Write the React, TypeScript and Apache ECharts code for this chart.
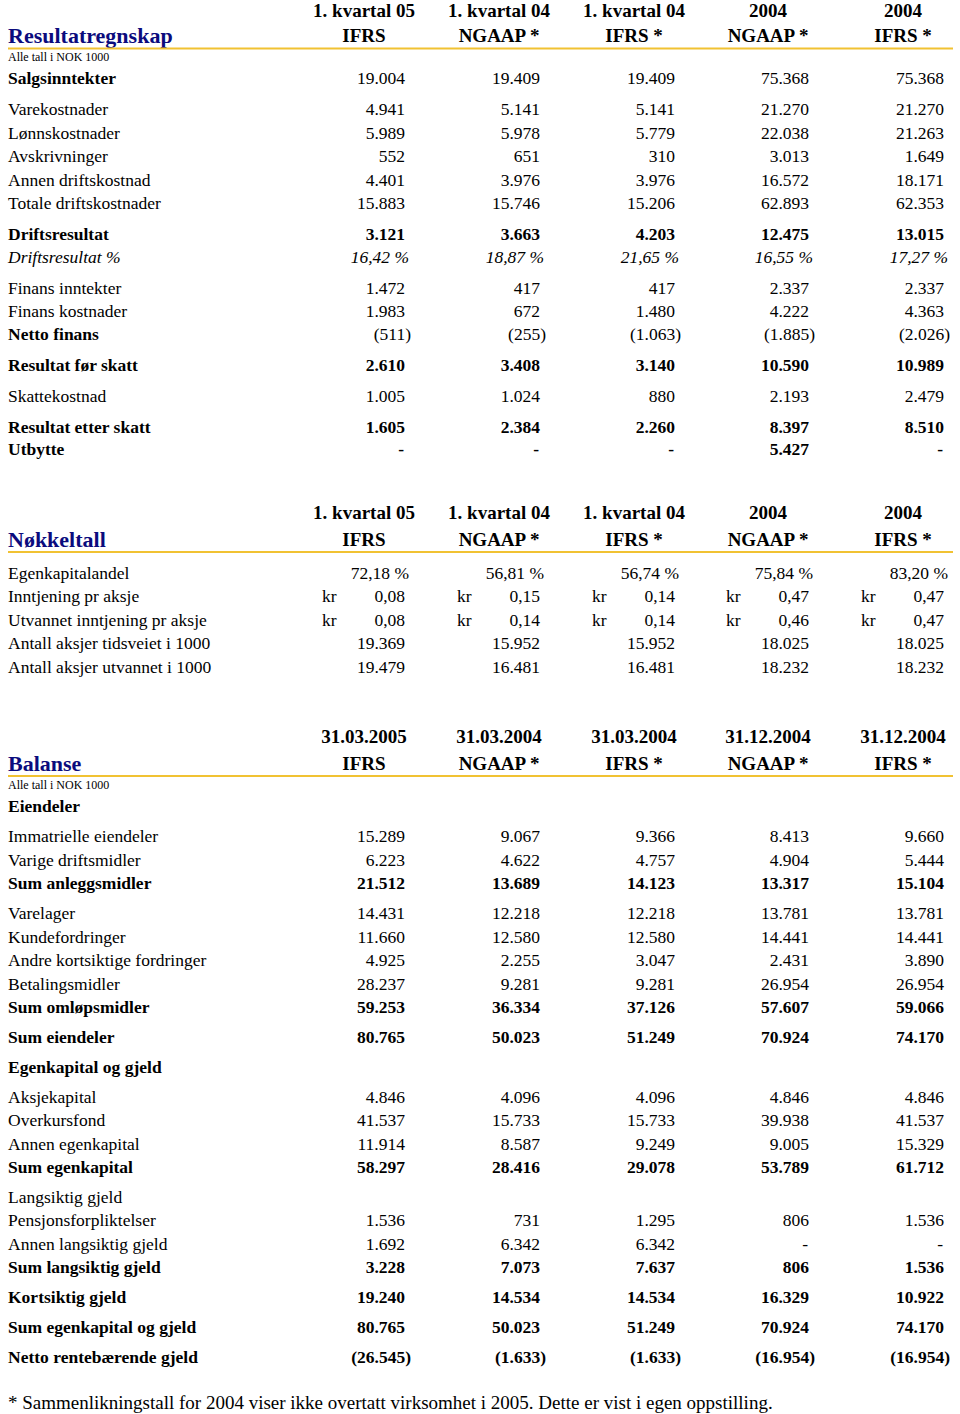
import React, { useEffect, useRef } from "react";
import * as echarts from "echarts";

const _ = undefined as any;

// ---------- Headers ----------
const periodLabels = ["1. kvartal 05", "1. kvartal 04", "1. kvartal 04", "2004", "2004"];
const gaapLabels = ["IFRS", "NGAAP *", "IFRS *", "NGAAP *", "IFRS *"];
const balDates = ["31.03.2005", "31.03.2004", "31.03.2004", "31.12.2004", "31.12.2004"];

// ---------- Resultatregnskap ----------
const resLabels = [
  "Salgsinntekter", "Varekostnader", "Lønnskostnader", "Avskrivninger", "Annen driftskostnad",
  "Totale driftskostnader", "Driftsresultat", "Driftsresultat %", "Finans inntekter", "Finans kostnader",
  "Netto finans", "Resultat før skatt", "Skattekostnad", "Resultat etter skatt", "Utbytte",
];
const resQ105 = [19004, 4941, 5989, 552, 4401, 15883, 3121, 16.42, 1472, 1983, -511, 2610, 1005, 1605, null];
const resQ104N = [19409, 5141, 5978, 651, 3976, 15746, 3663, 18.87, 417, 672, -255, 3408, 1024, 2384, null];
const resQ104I = [19409, 5141, 5779, 310, 3976, 15206, 4203, 21.65, 417, 1480, -1063, 3140, 880, 2260, null];
const res04N = [75368, 21270, 22038, 3013, 16572, 62893, 12475, 16.55, 2337, 4222, -1885, 10590, 2193, 8397, 5427];
const res04I = [75368, 21270, 21263, 1649, 18171, 62353, 13015, 17.27, 2337, 4363, -2026, 10989, 2479, 8510, null];
const resFormats = ["int", "int", "int", "int", "int", "int", "int", "pct", "int", "int", "int", "int", "int", "int", "int"];

// ---------- Nøkkeltall ----------
const keyLabels = [
  "Egenkapitalandel", "Inntjening pr aksje", "Utvannet inntjening pr aksje",
  "Antall aksjer tidsveiet i 1000", "Antall aksjer utvannet i 1000",
];
const keyQ105 = [72.18, 0.08, 0.08, 19369, 19479];
const keyQ104N = [56.81, 0.15, 0.14, 15952, 16481];
const keyQ104I = [56.74, 0.14, 0.14, 15952, 16481];
const key04N = [75.84, 0.47, 0.46, 18025, 18232];
const key04I = [83.2, 0.47, 0.47, 18025, 18232];
const keyFormats = ["pct", "kr", "kr", "int", "int"];

// ---------- Balanse ----------
const balLabels = [
  "Eiendeler", "Immatrielle eiendeler", "Varige driftsmidler", "Sum anleggsmidler", "Varelager",
  "Kundefordringer", "Andre kortsiktige fordringer", "Betalingsmidler", "Sum omløpsmidler", "Sum eiendeler",
  "Egenkapital og gjeld", "Aksjekapital", "Overkursfond", "Annen egenkapital", "Sum egenkapital",
  "Langsiktig gjeld", "Pensjonsforpliktelser", "Annen langsiktig gjeld", "Sum langsiktig gjeld",
  "Kortsiktig gjeld", "Sum egenkapital og gjeld", "Netto rentebærende gjeld",
];
const bal3105 = [_, 15289, 6223, 21512, 14431, 11660, 4925, 28237, 59253, 80765, _, 4846, 41537, 11914, 58297, _, 1536, 1692, 3228, 19240, 80765, -26545];
const bal3104N = [_, 9067, 4622, 13689, 12218, 12580, 2255, 9281, 36334, 50023, _, 4096, 15733, 8587, 28416, _, 731, 6342, 7073, 14534, 50023, -1633];
const bal3104I = [_, 9366, 4757, 14123, 12218, 12580, 3047, 9281, 37126, 51249, _, 4096, 15733, 9249, 29078, _, 1295, 6342, 7637, 14534, 51249, -1633];
const bal3112N = [_, 8413, 4904, 13317, 13781, 14441, 2431, 26954, 57607, 70924, _, 4846, 39938, 9005, 53789, _, 806, null, 806, 16329, 70924, -16954];
const bal3112I = [_, 9660, 5444, 15104, 13781, 14441, 3890, 26954, 59066, 74170, _, 4846, 41537, 15329, 61712, _, 1536, null, 1536, 10922, 74170, -16954];

const footnote = "* Sammenlikningstall for 2004 viser ikke overtatt virksomhet i 2005. Dette er vist i egen oppstilling.";

// ---------- Layout / styles (not data) ----------
const FONT = "'Liberation Serif', 'Times New Roman', serif";
const NAVY = "#0b0b7d";
const GOLD = "#f1c232";
const BODY = 17.5;
const colRight = [405, 540, 675, 809, 944];
const resY = [78, 109, 133, 156, 180, 203, 234, 257, 288, 311, 334, 365, 396, 427, 449];
const keyY = [573, 596, 620, 643, 667];
const balY = [806, 836, 860, 883, 913, 937, 960, 984, 1007, 1037, 1067, 1097, 1120, 1144, 1167, 1197, 1220, 1244, 1267, 1297, 1327, 1357];
const resBoldLabel = [0, 6, 10, 11, 13, 14];
const resBoldValue = [6, 11, 13, 14];
const resItalic = [7];
const balBoldLabel = [0, 3, 8, 9, 10, 14, 18, 19, 20, 21];
const balBoldValue = [3, 8, 9, 14, 18, 19, 20, 21];

function thousands(n: number): string {
  const s = String(Math.round(Math.abs(n)));
  let out = "";
  for (let i = 0; i < s.length; i++) {
    if (i > 0 && (s.length - i) % 3 === 0) out += ".";
    out += s[i];
  }
  return out;
}

function T(text: string, x: number, y: number, o: any = {}) {
  return {
    type: "text",
    x,
    y,
    silent: true,
    style: {
      text,
      fill: o.fill || "#000",
      fontFamily: FONT,
      fontSize: o.size || BODY,
      fontWeight: o.bold ? "bold" : "normal",
      fontStyle: o.italic ? "italic" : "normal",
      textAlign: o.align || "left",
      textVerticalAlign: "middle",
    },
  };
}

function valueCells(v: any, fmt: string, col: number, y: number, o: any) {
  const r = colRight[col];
  const els: any[] = [];
  if (v === undefined) return els;
  if (v === null) {
    els.push(T("-", r - 1, y, { ...o, align: "right" }));
    return els;
  }
  if (fmt === "pct") {
    els.push(T(v.toFixed(2).replace(".", ",") + " %", r + 4, y, { ...o, align: "right" }));
  } else if (fmt === "kr") {
    els.push(T("kr", r - 83, y, { ...o, align: "left" }));
    els.push(T(v.toFixed(2).replace(".", ","), r, y, { ...o, align: "right" }));
  } else if (v < 0) {
    els.push(T("(" + thousands(v) + ")", r + 6, y, { ...o, align: "right" }));
  } else {
    els.push(T(thousands(v), r, y, { ...o, align: "right" }));
  }
  return els;
}

function headerBlock(top: string[], title: string, yTop: number, yTitle: number, yLine: number) {
  const els: any[] = [];
  top.forEach((t, i) => els.push(T(t, colRight[i] - 41, yTop, { bold: true, size: 19, align: "center" })));
  gaapLabels.forEach((t, i) => els.push(T(t, colRight[i] - 41, yTitle, { bold: true, size: 19, align: "center" })));
  els.push(T(title, 8, yTitle, { bold: true, size: 22, fill: NAVY }));
  els.push({
    type: "line",
    silent: true,
    shape: { x1: 8, y1: yLine, x2: 953, y2: yLine },
    style: { stroke: GOLD, lineWidth: 2 },
  });
  return els;
}

export default function App() {
  const ref = useRef<HTMLDivElement>(null);
  useEffect(() => {
    if (!ref.current) return;
    const chart = echarts.init(ref.current, null, { renderer: "svg" });
    const els: any[] = [];

    // Section 1
    els.push(...headerBlock(periodLabels, "Resultatregnskap", 10.5, 35, 48.5));
    els.push(T("Alle tall i NOK 1000", 8, 57, { size: 12 }));
    const resCols = [resQ105, resQ104N, resQ104I, res04N, res04I];
    resLabels.forEach((lab, i) => {
      const y = resY[i];
      const italic = resItalic.includes(i);
      els.push(T(lab, 8, y, { bold: resBoldLabel.includes(i), italic }));
      resCols.forEach((col, c) => {
        els.push(...valueCells(col[i], resFormats[i], c, y, { bold: resBoldValue.includes(i), italic }));
      });
    });

    // Section 2
    els.push(...headerBlock(periodLabels, "Nøkkeltall", 512, 539, 552));
    const keyCols = [keyQ105, keyQ104N, keyQ104I, key04N, key04I];
    keyLabels.forEach((lab, i) => {
      const y = keyY[i];
      els.push(T(lab, 8, y));
      keyCols.forEach((col, c) => {
        els.push(...valueCells(col[i], keyFormats[i], c, y, {}));
      });
    });

    // Section 3
    els.push(...headerBlock(balDates, "Balanse", 736, 763, 776));
    els.push(T("Alle tall i NOK 1000", 8, 785, { size: 12 }));
    const balCols = [bal3105, bal3104N, bal3104I, bal3112N, bal3112I];
    balLabels.forEach((lab, i) => {
      const y = balY[i];
      els.push(T(lab, 8, y, { bold: balBoldLabel.includes(i) }));
      balCols.forEach((col, c) => {
        els.push(...valueCells(col[i], "int", c, y, { bold: balBoldValue.includes(i) }));
      });
    });

    els.push(T(footnote, 8, 1402, { size: 19 }));

    chart.setOption({
      animation: false,
      backgroundColor: "#ffffff",
      graphic: { elements: els },
    });
    return () => chart.dispose();
  }, []);
  return (
    <div
      ref={ref}
      style={{ position: "absolute", left: 0, top: 0, width: 960, height: 1414, background: "#fff" }}
    />
  );
}
